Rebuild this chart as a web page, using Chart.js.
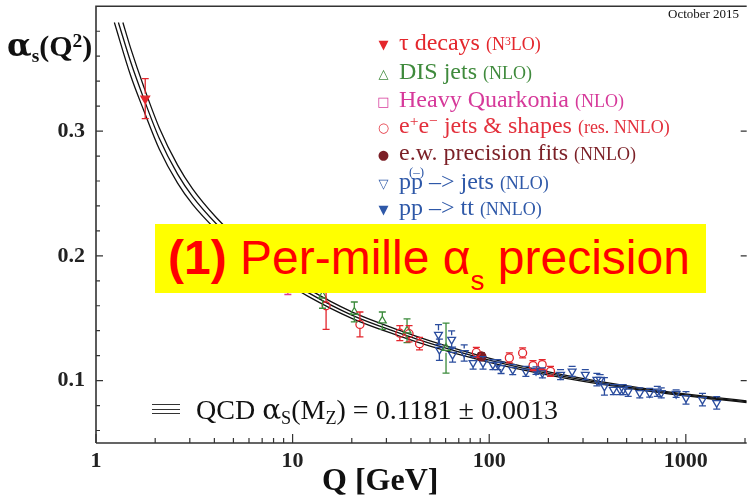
<!DOCTYPE html>
<html>
<head>
<meta charset="utf-8">
<title>alpha_s running</title>
<script src="https://cdn.jsdelivr.net/npm/chart.js@4.4.1/dist/chart.umd.min.js"></script>
<style>
  body { margin: 0; background: #fff; }
  #wrap { position: relative; width: 753px; height: 497px; overflow: hidden; }
  #chartCanvas { position: absolute; left: 0; top: 0; }
  .serif { position: absolute; white-space: nowrap; font-family: "Liberation Serif", "Times New Roman", serif; color: #111; }
  .row { position: absolute; left: 368px; font-family: "Liberation Serif", serif; font-size: 24px; line-height: 28px; white-space: nowrap; }
  .row small { font-size: 18px; }
  .mk { display: inline-block; width: 31px; text-align: center; font: 13px "DejaVu Sans", sans-serif; vertical-align: middle; }
  .sb { position: relative; top: 0.3em; font-size: 65%; }
  .sp { position: relative; top: -0.45em; font-size: 65%; }
  .pb { position: relative; }
  .pb span { position: absolute; left: -2px; top: -10px; font-size: 13px; }
  .al { font-family: "DejaVu Serif", serif; }
  #banner { position: absolute; left: 155px; top: 224px; width: 551px; height: 69px; padding-left: 13px; box-sizing: border-box;
            background: #ffff00; color: #ff0000; font-family: "Liberation Sans", Arial, sans-serif; font-size: 48px; line-height: 67px; white-space: nowrap; }
  #banner .s { position: relative; top: 16px; font-size: 28px; }
  .tri { position: absolute; left: 152px; width: 28px; height: 0; border-top: 1.3px solid #333; }
</style>
</head>
<body>
<div id="wrap">
  <canvas id="chartCanvas" width="753" height="497"></canvas>

  <div class="serif" style="left:7px;top:27px;font-size:30px;font-weight:bold;line-height:36px;"><span class="al" style="font-size:32px">α</span><span class="sb">s</span>(Q<span class="sp">2</span>)</div>
  <div class="serif" style="left:322px;top:461px;font-size:32px;font-weight:bold;line-height:36px;">Q [GeV]</div>
  <div class="serif" style="left:668px;top:6px;font-size:13px;">October 2015</div>

  <div class="row" style="top:28px;color:#e4262c"><span class="mk">▼</span>τ decays <small>(N<span class="sp">3</span>LO)</small></div>
  <div class="row" style="top:57px;color:#3f8a3c"><span class="mk">△</span>DIS jets <small>(NLO)</small></div>
  <div class="row" style="top:85px;color:#d6399a"><span class="mk">□</span>Heavy Quarkonia <small>(NLO)</small></div>
  <div class="row" style="top:111px;color:#e3303c"><span class="mk">○</span>e<span class="sp">+</span>e<span class="sp">−</span> jets &amp; shapes <small>(res. NNLO)</small></div>
  <div class="row" style="top:138px;color:#7b1f26"><span class="mk">●</span>e.w. precision fits <small>(NNLO)</small></div>
  <div class="row" style="top:167px;color:#2e58a8"><span class="mk">▽</span>p<span class="pb">p<span>(–)</span></span> –&gt; jets <small>(NLO)</small></div>
  <div class="row" style="top:193px;color:#2e58a8"><span class="mk">▼</span>pp –&gt; tt <small>(NNLO)</small></div>

  <div class="tri" style="top:404px"></div>
  <div class="tri" style="top:408.5px"></div>
  <div class="tri" style="top:413px"></div>
  <div class="serif" style="left:196px;top:394px;font-size:28px;line-height:32px;">QCD <span class="al">α</span><span class="sb">S</span>(M<span class="sb">Z</span>) = 0.1181 ± 0.0013</div>

  <div id="banner"><b>(1)</b> Per-mille α<span class="s">s</span> precision</div>
</div>
<script>
var canvas = document.getElementById("chartCanvas");

var RED = "#e3262d", GREEN = "#3b8b3b", MAGENTA = "#d83c95", DARKRED = "#7c1d22", BLUE = "#2b4d9e";

var xTicks = [1, 10, 100, 1000];
var yTicks = [0.1, 0.2, 0.3];

// QCD band: lower, central and upper line
var bandStartQ = [1.24, 1.3, 1.37];   // all three lines start at the same height
var bandStartAlpha = 0.387;
var curveQ   = [1.5, 1.75, 2.1, 2.6, 3.1, 4.1, 5, 6.5, 8.5, 12, 20, 35, 50, 91.2, 150, 250, 450, 800, 1400, 2040];
var curveMid = [0.3555, 0.326, 0.294, 0.2655, 0.2475, 0.2255, 0.2125, 0.1985, 0.1855, 0.1705, 0.1525, 0.138, 0.1298, 0.118, 0.1098, 0.1028, 0.096, 0.0903, 0.0858, 0.0831];
var curveUp  = [0.3665, 0.3355, 0.3025, 0.2727, 0.2537, 0.2305, 0.217, 0.2025, 0.189, 0.1735, 0.1551, 0.1403, 0.1319, 0.1197, 0.1112, 0.104, 0.0969, 0.0911, 0.0865, 0.0838];
var curveLow = [0.3445, 0.3165, 0.2855, 0.2583, 0.2413, 0.2205, 0.208, 0.1945, 0.182, 0.1675, 0.1499, 0.1357, 0.1277, 0.1163, 0.1084, 0.1016, 0.0951, 0.0895, 0.0851, 0.0824];

// measurements (Q in GeV, alpha_s, symmetric error)
var tauQ = [1.78], tauAlpha = [0.326], tauErr = [0.016];
var disQ = [14.2, 20.6, 28.6, 38.2, 60.3];
var disAlpha = [0.168, 0.155, 0.148, 0.140, 0.126];
var disErr = [0.010, 0.008, 0.007, 0.0095, 0.020];
var hqQ = [9.46], hqAlpha = [0.184], hqErr = [0.015];
var eeQ = [14.8, 22.0, 35.1, 39.1, 44.2, 86.0, 126.6, 147.9, 167, 186, 205];
var eeAlpha = [0.160, 0.145, 0.138, 0.1376, 0.1296, 0.1226, 0.1182, 0.1222, 0.112, 0.1128, 0.1074];
var eeErr = [0.019, 0.010, 0.006, 0.0065, 0.005, 0.004, 0.004, 0.004, 0.004, 0.004, 0.004];
var ewQ = [91.2], ewAlpha = [0.1195], ewErr = [0.003];
var jetsQ = [55.2, 55.8, 64.4, 65.1, 74.6, 82.8, 93.0, 104.4, 110.6, 114.9, 131.7, 153.6, 186.4, 230.6, 264.1, 308.1,
             352.9, 366.6, 385.5, 427.9, 462.4, 480.4, 509.2, 583.2, 655.0, 716.0, 750.0, 892.6, 1002, 1215, 1436];
var jetsAlpha = [0.1368, 0.1248, 0.1328, 0.1208, 0.1222, 0.1142, 0.1142, 0.1128, 0.1128, 0.1102, 0.1088, 0.1074, 0.1062, 0.1048, 0.1074, 0.1048,
                 0.1008, 0.1008, 0.0954, 0.0928, 0.0928, 0.0928, 0.0914, 0.0902, 0.0902, 0.0914, 0.0902, 0.0896, 0.0862, 0.0848, 0.0822];
var jetsErr = [0.008, 0.0085, 0.007, 0.006, 0.0065, 0.005, 0.005, 0.004, 0.004, 0.0045, 0.004, 0.004, 0.004, 0.004, 0.004, 0.004,
               0.005, 0.004, 0.007, 0.004, 0.004, 0.004, 0.004, 0.004, 0.0035, 0.004, 0.004, 0.003, 0.005, 0.005, 0.005];
var ttQ = [173], ttAlpha = [0.108], ttErr = [0.003];

function pts(q, a) {
  return q.map(function (v, i) { return { x: v, y: a[i] }; });
}

function band(start, vals) {
  return [{ x: start, y: bandStartAlpha }].concat(pts(curveQ, vals));
}

function marks(q, a, err, color, style, rot, radius, filled) {
  return {
    data: pts(q, a),
    errors: err,
    pointStyle: style,
    pointRotation: rot,
    pointRadius: radius,
    pointBorderWidth: 1.3,
    pointBorderColor: color,
    pointBackgroundColor: filled ? color : "rgba(0,0,0,0)",
    borderColor: color
  };
}

function line(data, width) {
  return {
    data: data,
    showLine: true,
    pointRadius: 0,
    borderColor: "#111",
    borderWidth: width,
    cubicInterpolationMode: "monotone",
    order: 10
  };
}

// error bars, drawn with the chart's own scales
var errorBars = {
  id: "errorBars",
  afterDatasetsDraw: function (chart) {
    var ctx = chart.ctx, xs = chart.scales.x, ys = chart.scales.y;
    chart.data.datasets.forEach(function (ds) {
      if (!ds.errors) return;
      ctx.save();
      ctx.strokeStyle = ds.pointBorderColor;
      ctx.lineWidth = 1.3;
      ds.data.forEach(function (p, i) {
        var x = xs.getPixelForValue(p.x), y = ys.getPixelForValue(p.y);
        var top = ys.getPixelForValue(p.y + ds.errors[i]);
        var bot = ys.getPixelForValue(p.y - ds.errors[i]);
        var r = ds.pointRadius;
        ctx.beginPath();
        if (top < y - r) { ctx.moveTo(x, top); ctx.lineTo(x, y - r); }
        if (bot > y + r) { ctx.moveTo(x, y + r); ctx.lineTo(x, bot); }
        ctx.moveTo(x - 3.5, top); ctx.lineTo(x + 3.5, top);
        ctx.moveTo(x - 3.5, bot); ctx.lineTo(x + 3.5, bot);
        ctx.stroke();
      });
      ctx.restore();
    });
  }
};

// frame with inward ticks
var frame = {
  id: "frame",
  afterDatasetsDraw: function (chart) {
    var ctx = chart.ctx, a = chart.chartArea, xs = chart.scales.x, ys = chart.scales.y;
    ctx.save();
    ctx.strokeStyle = "#333";
    ctx.lineWidth = 1.6;
    ctx.beginPath();
    ctx.moveTo(a.left, a.bottom); ctx.lineTo(a.left, a.top); ctx.lineTo(a.right, a.top);
    ctx.moveTo(a.left, a.bottom); ctx.lineTo(a.right, a.bottom);
    ctx.stroke();
    ctx.lineWidth = 1.2;
    ctx.beginPath();
    xTicks.forEach(function (d) {
      for (var m = 1; m <= 9; m++) {
        var v = d * m;
        if (v > xs.max) break;
        var px = xs.getPixelForValue(v), len = m === 1 ? 9 : 5;
        ctx.moveTo(px, a.bottom); ctx.lineTo(px, a.bottom - len);
      }
    });
    for (var i = 3; i <= 19; i++) {
      var py = ys.getPixelForValue(i * 0.02), major = i % 5 === 0;
      ctx.moveTo(a.left, py); ctx.lineTo(a.left + (major ? 7 : 4), py);
      if (major) { ctx.moveTo(a.right, py); ctx.lineTo(a.right - 6, py); }
    }
    ctx.stroke();
    ctx.restore();
  }
};

var tickFont = { family: "'Liberation Serif', serif", size: 22, weight: "bold" };

var alphaChart = new Chart(canvas, {
  type: "scatter",
  data: {
    datasets: [
      marks(tauQ, tauAlpha, tauErr, RED, "triangle", 180, 5, true),
      marks(disQ, disAlpha, disErr, GREEN, "triangle", 0, 4.5, false),
      marks(hqQ, hqAlpha, hqErr, MAGENTA, "rect", 0, 4, false),
      marks(eeQ, eeAlpha, eeErr, RED, "circle", 0, 4, false),
      marks(ewQ, ewAlpha, ewErr, DARKRED, "circle", 0, 4.5, true),
      marks(ttQ, ttAlpha, ttErr, BLUE, "triangle", 180, 4.5, true),
      marks(jetsQ, jetsAlpha, jetsErr, BLUE, "triangle", 180, 4.5, false),
      line(band(bandStartQ[0], curveLow), 1.3),
      line(band(bandStartQ[1], curveMid), 1.3),
      line(band(bandStartQ[2], curveUp), 1.3)
    ]
  },
  options: {
    responsive: false,
    animation: false,
    events: [],
    layout: { padding: { top: 5, left: 0, right: 0, bottom: 0 } },
    plugins: { legend: { display: false }, tooltip: { enabled: false } },
    scales: {
      x: {
        type: "logarithmic",
        min: 1,
        max: 2040,
        grid: { display: false, drawTicks: false },
        border: { display: false },
        afterBuildTicks: function (scale) {
          scale.ticks = xTicks.map(function (v) { return { value: v }; });
        },
        afterFit: function (scale) {
          scale.height = 54;
          scale.paddingLeft = 0;
          scale.paddingRight = 0;
        },
        ticks: {
          font: tickFont,
          color: "#222",
          padding: 5,
          maxRotation: 0,
          autoSkip: false,
          callback: function (v) { return String(v); }
        }
      },
      y: {
        min: 0.05,
        max: 0.40,
        grid: { display: false, drawTicks: false },
        border: { display: false },
        afterBuildTicks: function (scale) {
          scale.ticks = yTicks.map(function (v) { return { value: v }; });
        },
        afterFit: function (scale) {
          scale.width = 96;
          scale.paddingTop = 0;
          scale.paddingBottom = 0;
        },
        ticks: {
          font: tickFont,
          color: "#222",
          padding: 11,
          callback: function (v) { return v.toFixed(1); }
        }
      }
    }
  },
  plugins: [errorBars, frame]
});
</script>
</body>
</html>
